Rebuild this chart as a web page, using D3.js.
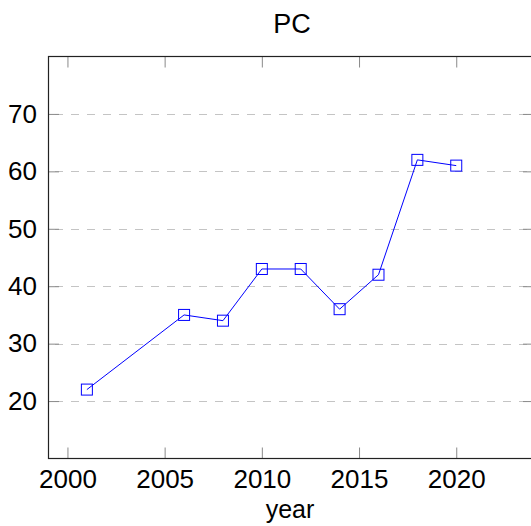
<!DOCTYPE html>
<html>
<head>
<meta charset="utf-8">
<script src="https://cdn.jsdelivr.net/npm/d3@7"></script>
<style>
  html, body { margin: 0; padding: 0; background: #fff; }
  svg { display: block; }
  text { font-family: "Liberation Sans", Arial, sans-serif; fill: #000; }
</style>
</head>
<body>
<svg id="chart" width="531" height="526"></svg>
<script>
const title = "PC";
const xLabel = "year";
const years = [2001, 2006, 2008, 2010, 2012, 2014, 2016, 2018, 2020];
const values = [22, 35, 34, 43, 43, 36, 42, 62, 61];
const xTicks = [2000, 2005, 2010, 2015, 2020];
const yTicks = [20, 30, 40, 50, 60, 70];

(function () {
const svg = d3.select("#chart");
const mLeft = 48, mTop = 56.5, mRight = 534, mBottom = 458.5;
const x = d3.scaleLinear().domain([1999, 2024]).range([mLeft, mRight]);
const y = d3.scaleLinear().domain([10, 80]).range([mBottom, mTop]);
const tickLen = 11;

// grid lines
svg.append("g").selectAll("line").data(yTicks).join("line")
  .attr("x1", mLeft).attr("x2", mRight)
  .attr("y1", d => Math.round(y(d)) + 0.5).attr("y2", d => Math.round(y(d)) + 0.5)
  .attr("stroke", "#c4c4c4").attr("stroke-width", 1)
  .attr("stroke-dasharray", "8,8").attr("stroke-dashoffset", -7);

// axes with inward ticks
const fmt = d3.format("d");
const xb = svg.append("g").attr("transform", `translate(0,${mBottom})`)
  .call(d3.axisBottom(x).tickValues(xTicks).tickFormat(fmt).tickSizeInner(-tickLen).tickSizeOuter(0).tickPadding(29.5));
const xt = svg.append("g").attr("transform", `translate(0,${mTop})`)
  .call(d3.axisTop(x).tickValues(xTicks).tickFormat("").tickSizeInner(-tickLen).tickSizeOuter(0));
const yl = svg.append("g").attr("transform", `translate(${mLeft},0)`)
  .call(d3.axisLeft(y).tickValues(yTicks).tickFormat(fmt).tickSizeInner(-tickLen).tickSizeOuter(0).tickPadding(11));
const yr = svg.append("g").attr("transform", `translate(${mRight},0)`)
  .call(d3.axisRight(y).tickValues(yTicks).tickFormat("").tickSizeInner(-tickLen).tickSizeOuter(0));

[xb, xt, yl, yr].forEach(g => {
  g.select(".domain").remove();
  g.selectAll(".tick line").attr("stroke", "#8a8a8a").attr("stroke-width", 1);
  g.selectAll(".tick text").style("font-family", '"Liberation Sans", Arial, sans-serif')
    .style("font-size", "26px").attr("fill", "#000");
});
xb.selectAll(".tick text").attr("dy", "0");

// frame
svg.append("rect")
  .attr("x", mLeft + 0.5).attr("y", mTop)
  .attr("width", mRight - mLeft).attr("height", mBottom - mTop)
  .attr("fill", "none").attr("stroke", "#222").attr("stroke-width", 1.2);

// data
const pts = years.map((yv, i) => [yv, values[i]]);
const line = d3.line().x(d => x(d[0])).y(d => y(d[1]));
svg.append("path").datum(pts)
  .attr("d", line).attr("fill", "none")
  .attr("stroke", "#0000ff").attr("stroke-width", 1);

const ms = 11;
svg.append("g").selectAll("rect").data(pts).join("rect")
  .attr("x", d => x(d[0]) - ms / 2).attr("y", d => y(d[1]) - ms / 2)
  .attr("width", ms).attr("height", ms)
  .attr("fill", "none").attr("stroke", "#0000ff").attr("stroke-width", 1);

// title & label
svg.append("text").attr("x", 292).attr("y", 32.5)
  .attr("text-anchor", "middle").style("font-size", "27px").text(title);
svg.append("text").attr("x", 290).attr("y", 518)
  .attr("text-anchor", "middle").style("font-size", "25px").text(xLabel);
})();
</script>
</body>
</html>
